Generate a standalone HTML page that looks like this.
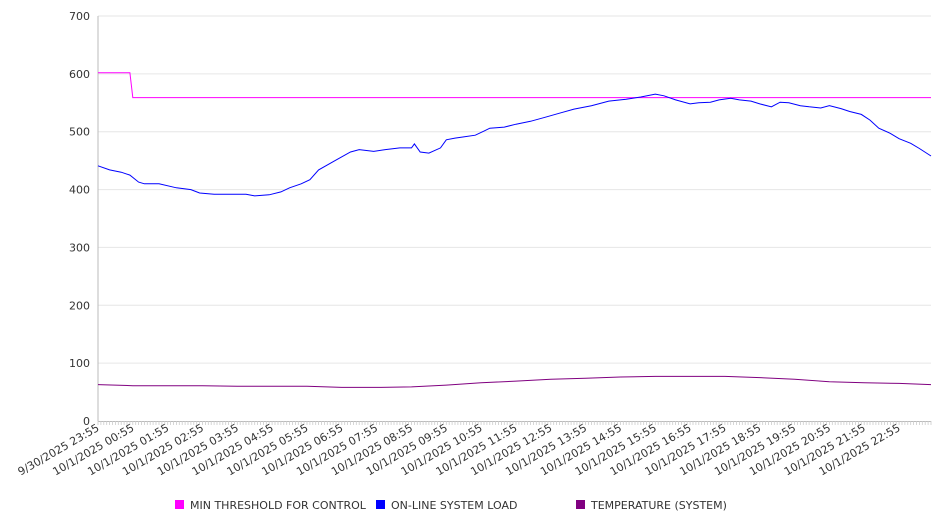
<!DOCTYPE html>
<html><head><meta charset="utf-8"><style>
body{margin:0;background:#fff;}
svg text{font-family:"DejaVu Sans","Liberation Sans",sans-serif;}
</style></head><body>
<svg id="chart" width="946" height="526" xmlns="http://www.w3.org/2000/svg">
<g id="grid"></g>
<g id="axes"></g>
<g id="series"></g>
<g id="legend"></g>
</svg>
<script>
const yTicks=[0,100,200,300,400,500,600,700];
const xLabels=["9/30/2025 23:55","10/1/2025 00:55","10/1/2025 01:55","10/1/2025 02:55","10/1/2025 03:55","10/1/2025 04:55","10/1/2025 05:55","10/1/2025 06:55","10/1/2025 07:55","10/1/2025 08:55","10/1/2025 09:55","10/1/2025 10:55","10/1/2025 11:55","10/1/2025 12:55","10/1/2025 13:55","10/1/2025 14:55","10/1/2025 15:55","10/1/2025 16:55","10/1/2025 17:55","10/1/2025 18:55","10/1/2025 19:55","10/1/2025 20:55","10/1/2025 21:55","10/1/2025 22:55"];
// sample indices (5-minute steps since 23:55)
const loadIdx=[0,4,8,11,14,16,21,27,32,35,40,45,51,54,59,63,66,70,73,76,82,87,90,95,99,104,108,109,111,114,118,120,123,126,130,133,135,140,144,149,154,159,164,170,176,182,187,192,195,199,204,207,211,214,218,221,225,228,232,235,238,242,245,249,252,256,259,263,266,269,273,276,280,283,287];
const loadValues=[441,434,430,425,413,410,410,403,400,394,392,392,392,389,391,396,403,410,417,434,451,465,469,466,469,472,472,479,465,463,472,486,489,491,494,501,506,508,513,518,525,532,539,545,553,556,560,565,562,555,548,550,551,555,558,555,553,548,543,551,550,545,543,541,545,540,535,530,520,506,497,488,480,471,458];
const threshIdx=[0,11,12,287];
const threshValues=[602,602,559,559];
const tempIdx=[0,12,24,36,48,60,72,84,96,108,120,132,144,156,168,180,192,204,216,228,240,252,264,276,287];
const tempValues=[63,61,61,61,60,60,60,58,58,59,62,66,69,72,74,76,77,77,77,75,72,68,66,65,63];

const X0=98,X1=931,Y0=421,Y1=16,IMAX=287,VMAX=700;
const xs=i=>X0+i/IMAX*(X1-X0);
const ys=v=>Y0-v/VMAX*(Y0-Y1);
const NS="http://www.w3.org/2000/svg";
function mk(tag,attrs,parent){const e=document.createElementNS(NS,tag);for(const k in attrs)e.setAttribute(k,attrs[k]);parent.appendChild(e);return e;}
const grid=document.getElementById('grid'),axes=document.getElementById('axes'),series=document.getElementById('series'),legend=document.getElementById('legend');
yTicks.forEach(v=>{
  if(v>0){const l=mk('line',{x1:X0,x2:X1,y1:ys(v),y2:ys(v),stroke:'#e6e6e6','stroke-width':1},grid);
  
  }
  const t=mk('text',{x:X0-8,y:ys(v)+4,'text-anchor':'end','font-size':11,fill:'#333'},axes);
  t.textContent=v;
  
  
});
const ya=mk('line',{x1:X0,x2:X0,y1:Y1,y2:Y0,stroke:'#bbb'},axes);


const xa=mk('line',{x1:X0,x2:X1,y1:Y0+0.5,y2:Y0+0.5,stroke:'#bbb'},axes);


let d='';for(let i=0;i<=IMAX;i++){const x=xs(i).toFixed(1);d+=`M${x} ${Y0} V${Y0+4}`;}
const tk=mk('path',{d:d,stroke:'#ccc','stroke-width':0.8},axes);


xLabels.forEach((s,i)=>{
  const x=xs(i*12)+2,y=Y0+9;
  const t=mk('text',{x:x,y:y,'text-anchor':'end','font-size':11,fill:'#333',transform:`rotate(-30 ${x} ${y})`},axes);
  t.textContent=s;
  
  
});
function line(ts,vs,color,name){
  const p=ts.map((t,i)=>(i?'L':'M')+xs(t).toFixed(1)+' '+ys(vs[i]).toFixed(1)).join(' ');
  const e=mk('path',{d:p,fill:'none',stroke:color,'stroke-width':1},series);
  
  
}
line(threshIdx,threshValues,'#ff00ff','min-threshold-line');
line(tempIdx,tempValues,'#800080','temperature-line');
line(loadIdx,loadValues,'#0000ff','system-load-line');
[['MIN THRESHOLD FOR CONTROL','#ff00ff',175],['ON-LINE SYSTEM LOAD','#0000ff',376],['TEMPERATURE (SYSTEM)','#800080',576]].forEach(([s,c,x])=>{
  const g=mk('g',{},legend);
  
  
  mk('rect',{x:x,y:500,width:9,height:9,fill:c},g);
  const t=mk('text',{x:x+15,y:509,'font-size':11,fill:'#333'},g);
  t.textContent=s;
});
</script>
</body></html>
